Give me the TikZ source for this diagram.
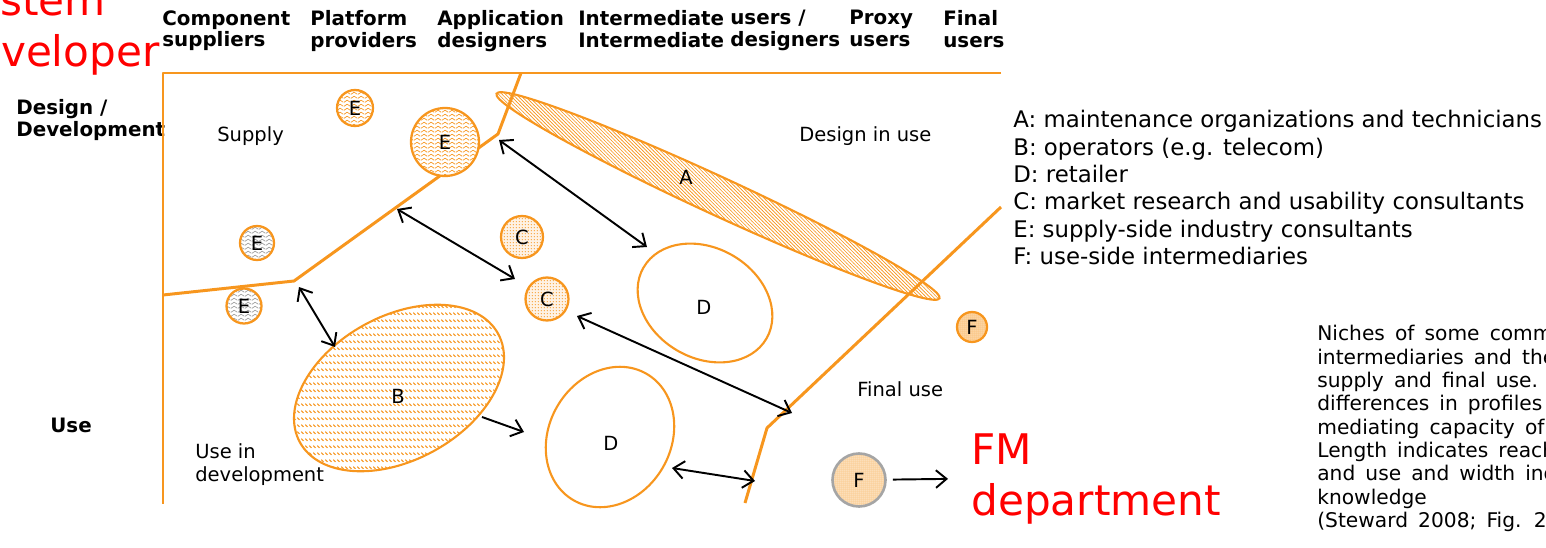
\documentclass[tikz,border=0pt]{standalone}
\usepackage{fontspec}
\setmainfont{DejaVu Sans}
\usepackage{tikz}
\usetikzlibrary{patterns,arrows.meta}

\definecolor{nicheorange}{RGB}{247,150,30}
\definecolor{rimgray}{RGB}{165,165,165}

% fill patterns for the niches
\pgfdeclarepatternformonly{zigzag}{\pgfpointorigin}{\pgfpoint{4pt}{2.4pt}}{\pgfpoint{4pt}{2.4pt}}{
  \pgfsetlinewidth{0.45pt}
  \pgfpathmoveto{\pgfpoint{0pt}{0.5pt}}
  \pgfpathlineto{\pgfpoint{2pt}{1.9pt}}
  \pgfpathlineto{\pgfpoint{4pt}{0.5pt}}
  \pgfusepath{stroke}}
\pgfdeclarepatternformonly{dashrows}{\pgfpointorigin}{\pgfpoint{2pt}{4pt}}{\pgfpoint{2pt}{4pt}}{
  \pgfsetlinewidth{0.6pt}
  \pgfpathmoveto{\pgfpoint{0.2pt}{2.8pt}}
  \pgfpathlineto{\pgfpoint{1.6pt}{1.4pt}}
  \pgfusepath{stroke}}
\pgfdeclarepatternformonly{finehatch}{\pgfpoint{-0.5pt}{-0.5pt}}{\pgfpoint{2.5pt}{2.5pt}}{\pgfpoint{2pt}{2pt}}{
  \pgfsetlinewidth{0.35pt}
  \pgfpathmoveto{\pgfpoint{-0.1pt}{2.1pt}}
  \pgfpathlineto{\pgfpoint{2.1pt}{-0.1pt}}
  \pgfusepath{stroke}}
\pgfdeclarepatternformonly{finedots}{\pgfpointorigin}{\pgfpoint{1.6pt}{1.6pt}}{\pgfpoint{1.6pt}{1.6pt}}{
  \pgfpathcircle{\pgfpoint{0.8pt}{0.8pt}}{0.35pt}
  \pgfusepath{fill}}
\pgfdeclarepatternformonly{densedots}{\pgfpointorigin}{\pgfpoint{1.1pt}{1.1pt}}{\pgfpoint{1.1pt}{1.1pt}}{
  \pgfpathcircle{\pgfpoint{0.55pt}{0.55pt}}{0.3pt}
  \pgfusepath{fill}}

\begin{document}
\begin{tikzpicture}[x=0.02cm,y=-0.02cm]
\useasboundingbox (0,0) rectangle (1546,548);
\tikzstyle{every node}=[inner sep=0pt,font=\fontsize{11.1}{13.3}\selectfont]
\tikzstyle{head}=[anchor=north west,align=left,font=\bfseries\fontsize{11.3}{12.4}\selectfont]
\tikzstyle{redtag}=[anchor=north west,align=left,text=red,font=\fontsize{24}{29}\selectfont]
\tikzstyle{bound}=[draw=nicheorange,line width=1.7pt,line join=round]
\tikzstyle{niche}=[draw=nicheorange,line width=1.2pt]
\tikzstyle{ring}=[circle,draw=nicheorange,line width=1.3pt,preaction={fill=white}]
\tikzstyle{ering}=[ring,pattern=zigzag,pattern color=nicheorange]
\tikzstyle{gring}=[ring,pattern=zigzag,pattern color=gray!75]
\tikzstyle{cring}=[ring,preaction={fill=nicheorange!12},pattern=finedots,pattern color=nicheorange]
\tikzstyle{fring}=[ring,preaction={fill=nicheorange!35},pattern=densedots,pattern color=nicheorange]
\tikzstyle{fbig}=[circle,draw=rimgray,line width=1.5pt,preaction={fill=nicheorange!25},pattern=densedots,pattern color=nicheorange]
\tikzstyle{arr}=[-{Straight Barb[length=6pt,width=10pt]},line width=1.1pt]
\tikzstyle{darr}=[{Straight Barb[length=6pt,width=10pt]}-{Straight Barb[length=6pt,width=10pt]},line width=1.1pt]

    % column and row headings
    \node[head] (h1) at (162,10) {Component\\suppliers};
    \node[head] (h2) at (310,10) {Platform\\providers};
    \node[head] (h3) at (437,10) {Application\\designers};
    \node[head] (h4) at (578,10) {Intermediate\\Intermediate};
    \node[head] (h5) at (730,10) {users /\\designers};
    \node[head] (h6) at (849,10) {Proxy\\users};
    \node[head] (h7) at (943,10) {Final\\users};
    \node[head] (rdev) at (16,99) {Design /\\Development};
    \node[head,anchor=west] (ruse) at (50,425) {Use};
    \node[redtag] (sysdev) at (-52,-16) {System\\developer};

    % frame and the two boundaries
    \coordinate (tl) at (163,73);
    \coordinate (tr) at (1001,73);
    \coordinate (bl) at (163,504);
    \draw[bound] (tr) -- (tl) -- (bl);
    \coordinate (s0) at (163,295);
    \coordinate (s1) at (294,281);
    \coordinate (s2) at (498,134);
    \coordinate (s3) at (521,73);
    \draw[bound] (s0) -- (s1) -- (s2) -- (s3);
    \coordinate (u0) at (1001,207);
    \coordinate (u1) at (767,428);
    \coordinate (u2) at (745,503);
    \draw[bound] (u0) -- (u1) -- (u2);

    % region names
    \node[anchor=base west] (supply) at (217,141) {Supply};
    \node[anchor=base west] (diu) at (799,141) {Design in use};
    \node[anchor=base west] (fuse) at (857,396) {Final use};
    \node[anchor=north west,align=left] (uid) at (195,443) {Use in\\development};

    % niches
    \draw[niche,pattern=finehatch,pattern color=nicheorange,rotate around={-24.8:(718,196)}] (718,196) ellipse [x radius=244,y radius=19];
    \node (A) at (686,177) {A};
    \draw[niche,preaction={fill=white},pattern=dashrows,pattern color=nicheorange,rotate around={28.7:(399,388)}] (399,388) ellipse [x radius=113,y radius=72];
    \node (B) at (398,396) {B};
    \draw[niche,rotate around={-30:(705,303)}] (705,303) ellipse [x radius=71,y radius=55];
    \node (D1) at (704,307) {D};
    \draw[niche,rotate around={60:(610,437)}] (610,437) ellipse [x radius=73,y radius=61];
    \node (D2) at (611,443) {D};

    \node[ering,minimum size=0.72cm] (e1) at (355,108) {E};
    \node[ering,minimum size=1.36cm] (e2) at (445,142) {E};
    \node[gring,minimum size=0.68cm] (e3) at (257,243) {E};
    \node[gring,minimum size=0.70cm] (e4) at (244,306) {E};
    \node[cring,minimum size=0.84cm] (c1) at (522,237) {C};
    \node[cring,minimum size=0.86cm] (c2) at (547,299) {C};
    \node[fring,minimum size=0.60cm] (f1) at (972,327) {F};
    \node[fbig,minimum size=1.06cm] (f2) at (859,480) {F};
    \node[redtag] (fm) at (971,433) {FM\\department};

    % links between the niches
    \coordinate (p1) at (499,140);
    \coordinate (q1) at (647,247);
    \coordinate (p2) at (397,209);
    \coordinate (q2) at (515,279);
    \coordinate (p3) at (299,287);
    \coordinate (q3) at (335,347);
    \coordinate (p4) at (482,417);
    \coordinate (q4) at (524,432);
    \coordinate (p5) at (577,316);
    \coordinate (q5) at (792,413);
    \coordinate (p6) at (672,468);
    \coordinate (q6) at (755,481);
    \draw[darr] (p1) -- (q1);
    \draw[darr] (p2) -- (q2);
    \draw[darr] (p3) -- (q3);
    \draw[arr] (p4) -- (q4);
    \draw[darr] (p5) -- (q5);
    \draw[darr] (p6) -- (q6);
    \draw[arr,shorten <=0.12cm,shorten >=0.46cm] (f2) -- (fm.west);

    % key and caption
    \node[anchor=north west,align=left,font=\fontsize{13}{15.6}\selectfont] (key) at (1013,110)
      {A: maintenance organizations and technicians\\B: operators (e.g. telecom)\\D: retailer\\C: market research and usability consultants\\E: supply-side industry consultants\\F: use-side intermediaries};
    \node[anchor=north west,align=left,font=\fontsize{11.5}{13.3}\selectfont\spaceskip 0.5em\relax] (note) at (1317,325)
      {Niches of some common\\intermediaries and their\\supply and final use. Note\\differences in profiles of\\mediating capacity of the\\Length indicates reach\\and use and width indicates\\knowledge\\(Steward 2008;  Fig. 2)};
  \tikzstyle{every node}=[]
\end{tikzpicture}
\end{document}
